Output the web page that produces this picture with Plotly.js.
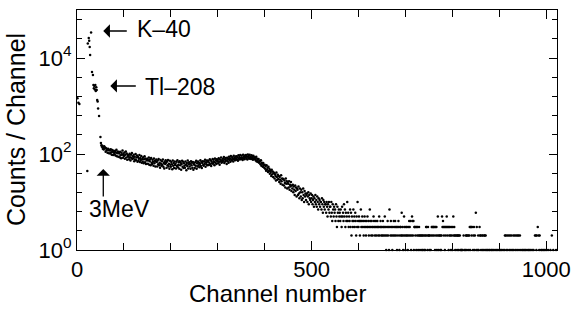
<!DOCTYPE html>
<html>
<head>
<meta charset="utf-8">
<script src="https://cdn.plot.ly/plotly-3.0.1.min.js"></script>
<style>html,body{margin:0;padding:0;background:#fff;}</style>
</head>
<body>
<div id="chart" style="width:571px;height:320px;"></div>
<script>
// Counts per channel, channels 0-49 (noise, K-40 and Tl-208 peaks)
const peakCounts = [0,1450,0,1170,0,1100,0,0,0,0,0,0,0,0,0,0,0,0,0,0,0,0,
  44,20000,0,26000,23000,17000,11500,0,34000,0,5100,0,4400,2750,2330,2620,2200,2750,
  2050,2450,2150,1330,1240,890,0,620,0,0];
// Channels 50-559 (continuum)
const comptonCounts = [
  225,170,152,141,149,129,138,124,145,131,
  136,112,131,118,125,106,128,119,104,123,
  118,102,126,109,97,121,111,95,117,106,
  99,116,93,108,122,90,104,113,88,109,
  103,86,111,94,82,106,97,118,84,100,
  91,108,80,97,113,85,102,76,95,88,
  94,78,101,86,73,97,83,105,79,90,
  82,96,71,88,77,100,74,85,93,69,
  87,72,80,95,68,83,75,91,66,79,
  70,86,64,78,90,67,81,62,76,73,
  80,63,74,85,60,71,78,58,83,66,
  62,76,69,57,81,64,72,55,70,77,
  68,55,73,61,79,58,66,52,75,63,
  57,71,60,77,54,65,50,69,62,74,
  66,52,70,58,75,55,63,49,72,60,
  54,68,61,48,73,57,65,51,70,59,
  63,50,69,56,74,53,60,67,49,71,
  58,66,47,62,72,54,69,51,64,57,
  52,70,60,46,65,56,73,50,61,67,
  55,63,49,71,58,66,52,68,47,62,
  60,51,67,57,72,49,64,55,70,58,
  66,53,62,74,56,68,51,65,71,59,
  57,70,63,76,54,67,61,73,58,69,
  72,59,66,78,61,74,56,70,64,79,
  63,76,68,58,81,66,73,62,78,70,
  75,64,82,69,60,77,71,85,66,74,
  68,80,72,87,65,78,70,83,74,62,
  84,71,79,66,88,75,82,69,91,77,
  73,86,80,70,92,78,84,74,89,81,
  90,76,85,72,94,80,87,77,95,83,
  79,92,84,75,97,82,88,78,93,86,
  95,81,89,77,98,85,91,80,96,84,
  87,79,94,83,90,76,92,81,86,78,
  84,73,88,70,80,75,68,79,66,72,
  70,61,74,57,66,63,54,65,58,52,
  60,49,56,45,58,47,52,42,54,44,
  49,39,46,42,35,47,38,43,33,41,
  40,31,38,35,28,41,33,29,37,30,
  35,26,33,29,24,36,27,31,23,30,
  30,22,28,25,20,31,24,27,19,26,
  24,20,27,18,23,21,26,17,22,19,
  23,16,21,18,14,22,17,20,13,19,
  18,14,21,15,12,19,16,13,18,11,
  16,12,19,14,10,17,13,15,11,14,
  15,10,13,16,9,14,12,11,15,10,
  12,14,9,11,13,8,12,10,14,9,
  11,8,13,10,7,12,9,11,8,10,
  10,7,12,9,6,11,8,10,7,9,
  9,6,10,8,5,9,7,10,6,8,
  8,5,10,6,4,9,7,5,8,6,
  7,4,9,5,3,8,6,4,7,5];
// Channels 560-1023 (tail)
const tailCounts = [
  6,4,7,5,3,8,5,6,4,9,
  5,7,3,6,4,5,10,4,6,3,
  5,4,7,3,6,2,5,4,3,7,
  4,5,3,6,4,2,5,3,10,4,
  3,5,4,2,4,7,3,4,5,3,
  4,2,3,5,4,3,2,4,3,5,
  3,4,2,3,7,4,3,2,4,3,
  2,3,5,4,3,2,3,4,2,3,
  4,3,2,3,5,2,3,4,3,2,
  3,2,4,3,2,3,5,2,3,1,
  2,3,4,2,3,1,7,3,2,4,
  3,2,1,3,2,4,3,2,4,3,
  2,3,1,3,2,4,3,1,2,3,
  3,2,6,2,3,1,2,5,3,2,
  1,3,2,3,2,1,3,2,4,3,
  2,4,1,2,5,4,2,4,1,3,
  3,2,3,1,3,2,3,1,2,3,
  2,1,2,0,2,1,2,1,2,0,
  1,2,1,2,3,3,2,1,3,2,
  2,1,2,0,1,2,3,3,2,3,
  3,2,3,1,3,2,3,1,2,5,
  1,2,0,2,1,2,1,2,5,3,
  4,3,2,3,1,3,2,3,5,3,
  2,3,1,3,2,3,2,1,3,2,
  1,3,5,2,3,2,1,2,0,2,
  1,2,2,1,2,0,2,1,0,1,
  1,0,1,0,2,0,1,0,1,2,
  2,1,2,0,2,1,2,3,1,3,
  3,2,3,0,1,2,3,1,2,0,
  6,1,3,0,1,2,1,0,3,2,
  2,1,0,2,1,2,0,1,2,2,
  1,2,0,1,0,1,0,0,1,0,
  1,0,0,1,0,1,0,0,1,0,
  0,1,0,0,1,0,0,1,0,0,
  1,0,1,0,0,1,0,0,1,0,
  0,1,2,0,2,1,0,2,1,0,
  2,0,1,2,0,1,2,0,1,0,
  2,1,0,2,0,1,2,0,1,2,
  0,2,1,0,2,0,1,0,0,1,
  0,1,0,0,1,0,1,0,0,1,
  0,0,1,0,1,0,0,1,0,0,
  1,0,0,1,0,0,2,0,2,1,
  2,0,3,0,2,1,2,0,0,1,
  0,1,0,0,1,0,0,1,0,0,
  1,0,0,0,1,0,0,0,0,1,
  0,0,2,0,0,1,0,0,0,0,
  0,1,0,0];

const xTickVals = [0, 500, 1000];
const xTickText = ['0', '500', '1000'];
const xMinorVals = [100, 200, 300, 400, 600, 700, 800, 900];
const yTickVals = [1, 100, 10000];
const yTickText = ['10<sup>0</sup>', '10<sup>2</sup>', '10<sup>4</sup>'];
const yMinorExp = [0.4, 0.8, 1.2, 1.6, 2.4, 2.8, 3.2, 3.6, 4.4, 4.8];

const counts = peakCounts.concat(comptonCounts, tailCounts);
const channels = counts.map((_, i) => i);
const yVals = counts.map(c => (c > 0 ? c : null));

const FONT = 'Arial, "Liberation Sans", Helvetica, sans-serif';

const trace = {
  type: 'scatter', mode: 'markers',
  x: channels, y: yVals,
  marker: {size: 2.5, color: '#000'},
  cliponaxis: false,
  hoverinfo: 'skip'
};

const arrowStyle = {showarrow: true, arrowhead: 1, arrowsize: 1.7, arrowwidth: 1.3, arrowcolor: '#000', standoff: 0, text: ''};

const layout = {
  width: 571, height: 320,
  margin: {l: 77, r: 14, t: 10, b: 70},
  paper_bgcolor: '#fff', plot_bgcolor: '#fff',
  font: {family: FONT, size: 22, color: '#000'},
  showlegend: false,
  xaxis: {
    range: [0, 1023],
    tickmode: 'array', tickvals: xTickVals, ticktext: xTickText,
    ticks: 'inside', ticklen: 9, tickwidth: 1, tickcolor: '#000',
    showline: true, linecolor: '#000', linewidth: 1, mirror: 'ticks',
    showgrid: false, zeroline: false,
    tickfont: {size: 22},
    minor: {tickmode: 'array', tickvals: xMinorVals, ticks: 'inside', ticklen: 7, tickwidth: 1, tickcolor: '#000', showgrid: false}
  },
  yaxis: {
    type: 'log', range: [0, 5],
    tickmode: 'array', tickvals: yTickVals, ticktext: yTickText,
    ticks: 'inside', ticklen: 8, tickwidth: 1, tickcolor: '#000',
    showline: true, linecolor: '#000', linewidth: 1, mirror: 'ticks',
    showgrid: false, zeroline: false,
    tickfont: {size: 22},
    minor: {tickmode: 'array', tickvals: yMinorExp.map(e => Math.pow(10, e)), ticks: 'inside', ticklen: 5, tickwidth: 1, tickcolor: '#000', showgrid: false}
  },
  annotations: [
    {xref: 'paper', yref: 'paper', x: 0.417, y: -0.183, text: 'Channel number', showarrow: false, xanchor: 'center', yanchor: 'middle', font: {size: 24}},
    {xref: 'paper', yref: 'paper', x: -0.127, y: 0.5, text: 'Counts / Channel', showarrow: false, textangle: -90, xanchor: 'center', yanchor: 'middle', font: {size: 25}},
    {x: 124, y: 4.604, text: 'K\u201340', showarrow: false, xanchor: 'left', yanchor: 'middle', font: {size: 23}},
    {x: 141, y: 3.396, text: 'Tl\u2013208', showarrow: false, xanchor: 'left', yanchor: 'middle', font: {size: 23}},
    {x: 22, y: 0.854, text: '3MeV', showarrow: false, xanchor: 'left', yanchor: 'middle', font: {size: 23}},
    Object.assign({x: 56, y: 4.5625, ax: 25, ay: 0}, arrowStyle),
    Object.assign({x: 71, y: 3.417, ax: 27, ay: 0}, arrowStyle),
    Object.assign({x: 56, y: 1.6875, ax: 0, ay: 29}, arrowStyle)
  ]
};

Plotly.newPlot('chart', [trace], layout, {displayModeBar: false, staticPlot: true});
</script>
</body>
</html>
